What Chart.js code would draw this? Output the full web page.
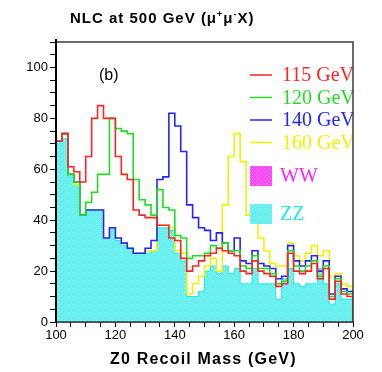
<!DOCTYPE html>
<html>
<head>
<meta charset="utf-8">
<script src="https://cdn.jsdelivr.net/npm/chart.js@4.4.0/dist/chart.umd.min.js"></script>
<style>
  html, body { margin: 0; padding: 0; background: #fff; }
  #wrap { position: relative; width: 382px; height: 372px; }
  #recoil { position: absolute; left: 0; top: 0; }
  .txt { position: absolute; font-family: "Liberation Sans", Arial, sans-serif; color: #000; white-space: nowrap; }
  .txt sup { font-size: 0.6em; }
  #title { left: 70px; top: 9px; font-size: 15px; font-weight: bold; letter-spacing: 1px; }
  #xtitle { left: 110px; top: 350px; font-size: 16px; font-weight: bold; letter-spacing: 1.2px; }
  #panel { left: 99px; top: 66px; font-size: 16px; }
</style>
</head>
<body>
<div id="wrap">
  <canvas id="recoil" width="382" height="372"></canvas>
  <div id="title" class="txt">NLC at 500 GeV (μ<sup>+</sup>μ<sup>-</sup>X)</div>
  <div id="panel" class="txt">(b)</div>
  <div id="xtitle" class="txt">Z0 Recoil Mass (GeV)</div>
</div>
<script>
/*--------------------------------------------------------------------
Recoil mass histograms, 2 GeV bins from 100 to 200 GeV
--------------------------------------------------------------------*/
const massMin = 100;
const massMax = 200;
const binWidth = 2;

const signalLabels = ["115 GeV", "120 GeV", "140 GeV", "160 GeV"];
const backgroundLabels = ["WW", "ZZ"];

// ZZ background (cyan filled)
const zzEvents = [71, 72, 57, 54, 42, 44, 44, 44, 33, 37,
                  32, 30, 29, 27, 27, 27, 28, 37, 37, 36,
                  27, 24, 10, 10, 12, 20, 22, 19, 22, 19,
                  21, 15, 15, 21, 15, 15, 15, 9, 17, 21,
                  15, 14, 15, 15, 21, 15, 7, 15, 9, 9];

// signal + background, one histogram per Higgs mass
const higgs115 = [71, 74, 61, 59, 55, 65, 80, 85, 80, 80,
                  65, 58, 56, 44, 42, 41, 41, 38, 38, 33,
                  32, 25, 20, 22, 24, 26, 27, 29, 28, 27,
                  26, 20, 19, 24, 20, 19, 18, 14, 15, 27,
                  20, 19, 20, 23, 17, 21, 9, 16, 11, 10];

const higgs120 = [71, 74, 58, 55, 42, 47, 51, 58, 58, 80,
                  76, 75, 74, 56, 48, 46, 42, 52, 45, 44,
                  34, 33, 25, 26, 26, 27, 30, 29, 31, 28,
                  28, 22, 21, 26, 21, 21, 19, 15, 16, 28,
                  22, 20, 22, 24, 18, 22, 10, 17, 12, 11];

const higgs140 = [71, 74, 58, 55, 42, 44, 44, 44, 33, 37,
                  33, 31, 29, 27, 27, 29, 32, 56, 57, 82,
                  77, 67, 46, 41, 37, 36, 32, 35, 31, 28,
                  33, 24, 23, 28, 23, 22, 21, 17, 18, 30,
                  24, 22, 24, 26, 20, 24, 11, 18, 13, 12];

const higgs160 = [71, 74, 58, 54, 42, 44, 44, 44, 33, 37,
                  33, 31, 29, 27, 27, 28, 28, 38, 38, 37,
                  28, 27, 11, 15, 18, 22, 25, 20, 46, 65,
                  74, 63, 42, 41, 33, 28, 23, 22, 22, 31,
                  26, 24, 27, 30, 26, 28, 18, 19, 15, 14];

const lineColors = ["#ff2424", "#22dd22", "#2424ff", "#f2f200"];

function histPoints(values) {
    const pts = [{x: massMin, y: 0}];
    values.forEach((v, i) => pts.push({x: massMin + i * binWidth, y: v}));
    pts.push({x: massMax, y: values[values.length - 1]});
    pts.push({x: massMax, y: 0});
    return pts;
}

// sparse dot texture, coarse enough to keep its hue after image compression
function makePattern(ctx, base, dot) {
    const tile = document.createElement("canvas");
    tile.width = 4;
    tile.height = 4;
    const g = tile.getContext("2d");
    g.fillStyle = base;
    g.fillRect(0, 0, 4, 4);
    g.fillStyle = dot;
    g.fillRect(0, 0, 1, 1);
    g.fillRect(2, 2, 1, 1);
    return ctx.createPattern(tile, "repeat");
}

const canvas = document.getElementById("recoil");
const ctx = canvas.getContext("2d");
const zzPattern = makePattern(ctx, "#5ef2f2", "#c8fcfc");
const wwPattern = makePattern(ctx, "#ff44ff", "#ffb8ff");

// legend drawn inside the frame, clipped by it like the original
const insideLegend = {
    id: "insideLegend",
    afterDatasetsDraw(chart) {
        const a = chart.chartArea;
        const c = chart.ctx;
        c.save();
        c.beginPath();
        c.rect(a.left, a.top, a.right - a.left, a.bottom - a.top);
        c.clip();
        c.font = '20px "Liberation Serif", "Times New Roman", serif';
        c.textBaseline = "middle";
        const lx = a.right - 103;
        const tx = a.right - 71;
        signalLabels.forEach((label, i) => {
            const y = a.top + 33 + i * 22.5;
            c.strokeStyle = lineColors[i];
            c.lineWidth = 1.5;
            c.beginPath();
            c.moveTo(lx, y);
            c.lineTo(lx + 22, y);
            c.stroke();
            c.fillStyle = lineColors[i];
            c.fillText(label, tx, y + 1);
        });
        const boxes = [wwPattern, zzPattern];
        const boxText = ["#ff20ff", "#20e8e8"];
        backgroundLabels.forEach((label, i) => {
            const y = a.top + 134 + i * 38;
            c.fillStyle = boxes[i];
            c.fillRect(lx, y - 10, 22, 20);
            c.fillStyle = boxText[i];
            c.fillText(label, tx - 2, y + 1);
        });
        c.restore();
    }
};

const frame = {
    id: "frame",
    afterDraw(chart) {
        const a = chart.chartArea;
        const c = chart.ctx;
        c.save();
        c.strokeStyle = "#3a3a3a";
        c.lineWidth = 1.5;
        c.strokeRect(a.left, a.top, a.right - a.left, a.bottom - a.top);
        c.strokeStyle = "#000";
        c.lineWidth = 2;
        c.beginPath();
        c.moveTo(a.left, a.top - 3);
        c.lineTo(a.left, a.bottom);
        c.stroke();
        c.restore();
    }
};

const histos = [higgs115, higgs120, higgs140, higgs160];
const datasets = histos.map((vals, i) => ({
    label: signalLabels[i],
    data: histPoints(vals),
    borderColor: lineColors[i],
    borderWidth: 1.6,
    stepped: "before",
    pointRadius: 0,
    fill: false
}));
datasets.push({
    label: "ZZ",
    data: histPoints(zzEvents),
    borderColor: "#22e6e6",
    borderWidth: 1,
    backgroundColor: zzPattern,
    stepped: "before",
    pointRadius: 0,
    fill: "origin"
});

const tickFont = {family: '"Liberation Sans", Arial, sans-serif', size: 13};

new Chart(ctx, {
    type: "line",
    data: {datasets},
    options: {
        responsive: false,
        animation: false,
        layout: {padding: {top: 42, right: 29, left: 0, bottom: 0}},
        plugins: {legend: {display: false}, tooltip: {enabled: false}},
        scales: {
            x: {
                type: "linear",
                min: massMin,
                max: massMax,
                afterFit: s => { s.height = 50; },
                ticks: {
                    stepSize: 5,
                    autoSkip: false,
                    maxRotation: 0,
                    color: "#000",
                    font: tickFont,
                    padding: 1,
                    callback: v => (v % 20 === 0 ? v : "")
                },
                grid: {drawOnChartArea: false, tickLength: 5, color: "#000", tickWidth: 1},
                border: {color: "#000", width: 1.5}
            },
            y: {
                min: 0,
                max: 110,
                afterFit: s => { s.width = 56; },
                ticks: {
                    stepSize: 5,
                    autoSkip: false,
                    color: "#000",
                    font: tickFont,
                    padding: 2,
                    callback: v => (v % 20 === 0 && v <= 100 ? v : "")
                },
                grid: {drawOnChartArea: false, tickLength: 6, color: "#000", tickWidth: 1},
                border: {color: "#000", width: 2}
            }
        }
    },
    plugins: [insideLegend, frame]
});
</script>
</body>
</html>
